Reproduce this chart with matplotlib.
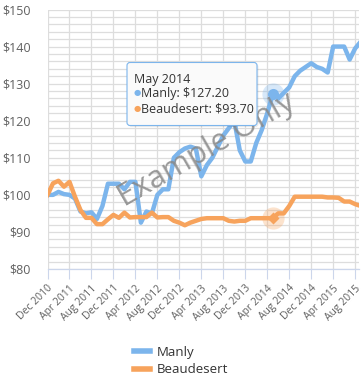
import matplotlib
matplotlib.use("Agg")
import matplotlib.pyplot as plt
from matplotlib.patches import FancyBboxPatch
from matplotlib.lines import Line2D
from matplotlib.transforms import Affine2D
from matplotlib.ticker import MultipleLocator, FuncFormatter

plt.rcParams['font.family'] = ['Open Sans', 'DejaVu Sans']

# monthly index values, Dec 2010 .. Sep 2015
manly = [100, 100, 100.8, 100.2, 100, 99, 95.5, 95, 95.3, 93.5,
         97, 103, 103, 103, 101.5, 103.5, 103.5, 92.5, 95.5, 95,
         100, 101.5, 101.5, 110, 111.5, 112.5, 113, 112.5, 105, 108,
         110, 113, 116, 118, 120, 112, 109, 109, 114, 117.5,
         122, 127.2, 126, 127.5, 129, 132, 133.5, 134.5, 135.5, 134.5,
         134, 133, 140, 140, 140, 136.5, 139.5, 141.3]
beaudesert = [100, 103.1, 103.8, 102.2, 103.5, 99.5, 95.9, 93.8, 93.8, 92.1,
              92.1, 93.4, 94.6, 93.8, 95.2, 93.9, 94, 94, 94, 95.2,
              93.9, 94, 94, 93, 92.5, 91.8, 92.5, 93, 93.5, 93.7,
              93.7, 93.7, 93.7, 93, 92.8, 93, 93, 93.7, 93.7, 93.7,
              93.7, 93.7, 95, 95, 97, 99.5, 99.5, 99.5, 99.5, 99.5,
              99.5, 99.3, 99.3, 99.2, 98.2, 98.2, 97.5, 97.0]
tick_labels = ['Dec 2010', 'Apr 2011', 'Aug 2011', 'Dec 2011', 'Apr 2012',
               'Aug 2012', 'Dec 2012', 'Apr 2013', 'Aug 2013', 'Dec 2013',
               'Apr 2014', 'Aug 2014', 'Dec 2014', 'Apr 2015', 'Aug 2015']
series_names = ['Manly', 'Beaudesert']
hover_month = 'May 2014'
hover_index = 41

BLUE = '#7cb5ec'
ORANGE = '#f7a35c'
TEXT = '#333333'
LABEL = '#606060'
GRID = '#dddddd'

W, H = 362, 389
fig = plt.figure(figsize=(W / 100, H / 100), dpi=100)
ax = fig.add_axes([47.5 / W, 1 - 269 / H, (359 - 47.5) / W, (269 - 9.5) / H])

months = list(range(len(manly)))
ax.plot(months, manly, color=BLUE, lw=3.2, solid_joinstyle='round', zorder=3)
ax.plot(months, beaudesert, color=ORANGE, lw=3.2, solid_joinstyle='round', zorder=4)

# hover markers with halo
ax.plot(hover_index, manly[hover_index], 'o', ms=16, color=BLUE, alpha=0.3, mec='none', zorder=5)
ax.plot(hover_index, manly[hover_index], 'o', ms=8, color=BLUE, mec='none', zorder=6)
ax.plot(hover_index, beaudesert[hover_index], 'o', ms=16, color=ORANGE, alpha=0.3, mec='none', zorder=5)
ax.plot(hover_index, beaudesert[hover_index], 'D', ms=6, color=ORANGE, mec='none', zorder=6)

ax.set_xlim(0, 56.7)
ax.set_ylim(80, 150)
ax.set_xticks(range(0, 4 * len(tick_labels), 4))
ax.set_xticklabels(tick_labels, rotation=45, ha='right', va='top',
                   rotation_mode='anchor', fontsize=7.5, color=LABEL)
ax.yaxis.set_major_locator(MultipleLocator(10))
ax.yaxis.set_minor_locator(MultipleLocator(2))
ax.yaxis.set_major_formatter(FuncFormatter(lambda v, p: f'${v:.0f}'))
ax.tick_params(axis='y', which='both', length=0, pad=12, labelsize=9, labelcolor=LABEL)
ax.tick_params(axis='x', length=7, color='#ccd6eb', pad=3)

ax.grid(True, which='major', color=GRID, lw=0.9)
ax.grid(True, which='minor', axis='y', color=GRID, lw=0.9)
ax.set_axisbelow(True)
for s in ['top', 'right', 'left']:
    ax.spines[s].set_visible(False)
ax.spines['bottom'].set_color('#ccd6eb')
ax.spines['bottom'].set_linewidth(0.9)

# watermark
fig.text(207 / W, 1 - 150 / H, 'Example Only', rotation=30, fontsize=22.5,
         color='#888888', alpha=0.85, ha='center', va='center', zorder=10)

# tooltip, drawn in pixel units
pix = Affine2D().scale(1 / W, -1 / H).translate(0, 1) + fig.transFigure
shadow = FancyBboxPatch((128.5, 64), 130, 63, boxstyle='round,pad=0,rounding_size=3',
                        transform=pix, fc='#000000', ec='none', alpha=0.08, zorder=11)
box = FancyBboxPatch((127, 62.5), 130, 63, boxstyle='round,pad=0,rounding_size=3',
                     transform=pix, fc='#fafafa', ec=BLUE, lw=0.8, zorder=12)
fig.add_artist(shadow)
fig.add_artist(box)
fig.text(134, 79, hover_month, transform=pix, fontsize=9, color=TEXT, va='center', zorder=13)
rows = [(series_names[0], manly[hover_index], BLUE, 94),
        (series_names[1], beaudesert[hover_index], ORANGE, 109)]
for name, val, col, yy in rows:
    fig.text(134, yy, '\u25cf', transform=pix, fontsize=6, color=col, va='center', zorder=13)
    fig.text(141, yy, f'{name}: ${val:.2f}', transform=pix, fontsize=9, color=TEXT,
             va='center', zorder=13)

handles = [Line2D([], [], color=BLUE, lw=4), Line2D([], [], color=ORANGE, lw=4)]
fig.legend(handles, series_names, loc='center', bbox_to_anchor=(181 / W, 1 - 361 / H),
           frameon=False, fontsize=9.5, labelcolor=TEXT, handlelength=1.2,
           handletextpad=0.5, labelspacing=0.35)

fig.savefig('out.png', dpi=100)
